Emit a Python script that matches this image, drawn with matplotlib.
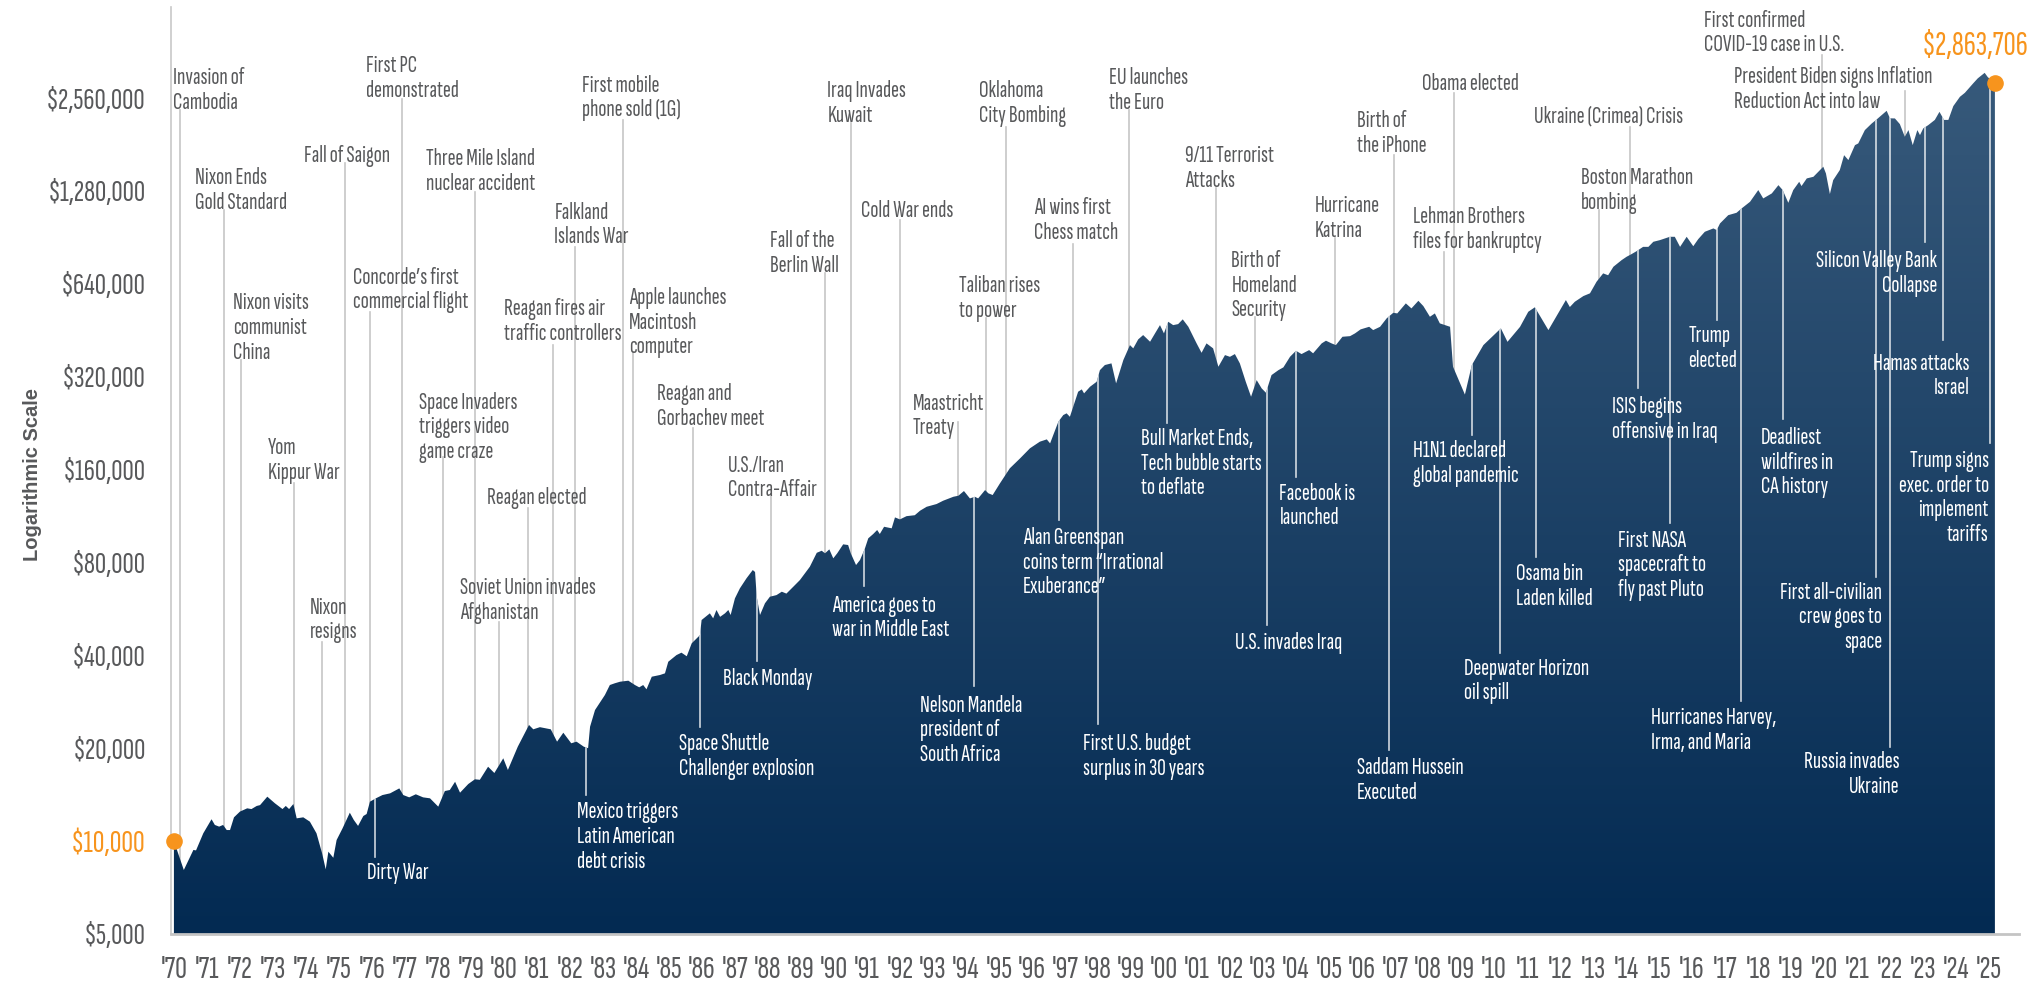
import numpy as np
import matplotlib.pyplot as plt
from matplotlib import font_manager as fm
from matplotlib.font_manager import FontProperties
from matplotlib.textpath import TextPath
from matplotlib.colors import LinearSegmentedColormap
from matplotlib.transforms import blended_transform_factory

# growth of $10,000 (log scale)
years = [1970.00, 1970.30, 1970.59, 1970.67, 1970.89, 1971.14, 1971.24, 1971.37, 1971.49, 1971.60,
         1971.70, 1971.82, 1972.00, 1972.22, 1972.35, 1972.51, 1972.61, 1972.83, 1973.06, 1973.29,
         1973.39, 1973.49, 1973.62, 1973.72, 1973.92, 1974.12, 1974.32, 1974.49, 1974.60, 1974.68,
         1974.83, 1974.93, 1975.11, 1975.33, 1975.45, 1975.58, 1975.74, 1975.84, 1975.94, 1976.12,
         1976.32, 1976.55, 1976.83, 1976.95, 1977.13, 1977.33, 1977.55, 1977.76, 1978.01, 1978.21,
         1978.36, 1978.52, 1978.67, 1978.92, 1979.12, 1979.27, 1979.52, 1979.71, 1979.98, 1980.12,
         1980.42, 1980.76, 1980.89, 1981.09, 1981.42, 1981.61, 1981.80, 1982.04, 1982.20, 1982.42,
         1982.55, 1982.61, 1982.76, 1983.06, 1983.21, 1983.36, 1983.52, 1983.77, 1983.97, 1984.10,
         1984.22, 1984.32, 1984.48, 1984.73, 1984.88, 1984.98, 1985.23, 1985.38, 1985.54, 1985.69,
         1985.94, 1985.99, 1986.24, 1986.34, 1986.44, 1986.55, 1986.70, 1986.80, 1986.87, 1987.00,
         1987.15, 1987.35, 1987.54, 1987.61, 1987.66, 1987.76, 1987.91, 1988.06, 1988.26, 1988.42,
         1988.56, 1988.77, 1988.97, 1989.27, 1989.48, 1989.63, 1989.73, 1989.86, 1989.98, 1990.10,
         1990.28, 1990.43, 1990.51, 1990.67, 1990.79, 1990.94, 1991.04, 1991.19, 1991.31, 1991.39,
         1991.52, 1991.75, 1991.85, 1992.00, 1992.20, 1992.45, 1992.61, 1992.81, 1993.11, 1993.31,
         1993.62, 1993.77, 1993.94, 1994.12, 1994.27, 1994.37, 1994.58, 1994.68, 1994.81, 1995.03,
         1995.33, 1995.64, 1995.94, 1996.24, 1996.45, 1996.55, 1996.80, 1996.95, 1997.05, 1997.15,
         1997.40, 1997.51, 1997.58, 1997.76, 1997.96, 1998.06, 1998.21, 1998.41, 1998.55, 1998.77,
         1998.97, 1999.07, 1999.22, 1999.37, 1999.58, 1999.73, 1999.88, 2000.00, 2000.13, 2000.28,
         2000.43, 2000.57, 2000.74, 2000.89, 2000.99, 2001.14, 2001.29, 2001.49, 2001.65, 2001.85,
         2002.00, 2002.15, 2002.30, 2002.48, 2002.64, 2002.81, 2002.96, 2003.09, 2003.26, 2003.47,
         2003.62, 2003.82, 2004.00, 2004.17, 2004.40, 2004.52, 2004.78, 2004.91, 2005.08, 2005.21,
         2005.41, 2005.64, 2005.79, 2005.96, 2006.22, 2006.34, 2006.55, 2006.75, 2006.95, 2007.07,
         2007.33, 2007.50, 2007.71, 2007.86, 2008.06, 2008.21, 2008.36, 2008.67, 2008.76, 2009.12,
         2009.33, 2009.68, 2010.21, 2010.41, 2010.79, 2011.04, 2011.24, 2011.65, 2012.18, 2012.30,
         2012.45, 2012.71, 2012.91, 2013.11, 2013.31, 2013.46, 2013.62, 2013.87, 2014.02, 2014.17,
         2014.32, 2014.52, 2014.68, 2014.83, 2015.03, 2015.33, 2015.48, 2015.64, 2015.84, 2016.04,
         2016.19, 2016.39, 2016.65, 2016.75, 2016.85, 2017.10, 2017.35, 2017.51, 2017.76, 2018.01,
         2018.16, 2018.42, 2018.62, 2018.75, 2018.92, 2019.07, 2019.25, 2019.32, 2019.48, 2019.68,
         2019.98, 2020.06, 2020.18, 2020.28, 2020.48, 2020.61, 2020.74, 2020.94, 2021.04, 2021.24,
         2021.45, 2021.60, 2021.75, 2021.90, 2022.00, 2022.15, 2022.30, 2022.45, 2022.56, 2022.69,
         2022.83, 2022.91, 2023.01, 2023.16, 2023.36, 2023.50, 2023.64, 2023.77, 2023.92, 2024.12,
         2024.27, 2024.52, 2024.66, 2024.87, 2024.97, 2025.05, 2025.18]
values = [10000, 8060, 9360, 9330, 10600, 11770, 11280, 11140, 11280, 10860,
          10860, 11940, 12460, 12770, 12700, 13000, 13080, 13930, 13260, 12700,
          13000, 12700, 13190, 11850, 11940, 11560, 10600, 9130, 8100, 9240,
          8830, 10080, 11000, 12360, 11710, 11200, 12060, 12240, 13420, 13760,
          14100, 14280, 14820, 14100, 13860, 14180, 13860, 13760, 12930, 14530,
          14640, 15570, 14350, 15310, 15860, 15800, 17420, 16620, 18550, 17000,
          20230, 23790, 23030, 23400, 23030, 21000, 22450, 20750, 21000, 20230,
          20000, 23480, 26590, 29750, 32050, 32470, 32850, 33100, 32050, 31500,
          32050, 31040, 34100, 34540, 34970, 38130, 40080, 40800, 39720, 43740,
          46500, 52060, 54720, 52710, 56100, 53300, 54720, 56100, 54040, 61180,
          65930, 71050, 75590, 74500, 62000, 54040, 58970, 61940, 62700, 64300,
          63400, 66760, 70160, 77480, 85970, 87300, 85640, 88200, 82480, 85640,
          91570, 91100, 85640, 78460, 81460, 88870, 95760, 98900, 101900, 98900,
          104400, 103200, 111960, 110300, 113000, 113800, 117700, 121200, 123700, 126800,
          130600, 131600, 136300, 129000, 130600, 129000, 137300, 134000, 132300, 144300,
          161500, 173900, 187500, 197000, 200400, 194500, 228600, 240300, 243400, 237200,
          286000, 291000, 282500, 296800, 308000, 336000, 349000, 353400, 304400, 362300,
          405000, 395300, 422600, 436500, 415300, 442000, 470100, 442000, 482000, 470100,
          473700, 490800, 464300, 431000, 410200, 382400, 410200, 395300, 344600, 375900,
          371100, 378800, 353400, 308000, 275500, 311900, 293300, 283900, 323800, 336000,
          343000, 371100, 388200, 378800, 390200, 380900, 410200, 418500, 410200, 405000,
          431000, 433000, 442000, 455400, 464300, 453000, 464300, 494600, 515500, 513000,
          552900, 532600, 563700, 542000, 500400, 513000, 476300, 464300, 344600, 280000,
          349000, 405000, 458900, 415000, 464000, 519400, 537000, 453000, 566800, 538000,
          559600, 584000, 596000, 650000, 691700, 682000, 726700, 763700, 783000, 798600,
          816000, 843000, 843000, 875600, 886500, 908800, 908800, 843000, 908800, 847000,
          893000, 943500, 967400, 955400, 1004000, 1068000, 1087000, 1124000, 1180000, 1288000,
          1210000, 1256000, 1336000, 1288000, 1171000, 1288000, 1370000, 1327000, 1405000, 1422000,
          1533000, 1458000, 1250000, 1387000, 1495000, 1671000, 1611000, 1801000, 1824000, 2015000,
          2118000, 2183000, 2254000, 2327000, 2200000, 2198000, 2107000, 1917000, 2015000, 1801000,
          2015000, 1941000, 2041000, 2091000, 2174000, 2309000, 2174000, 2174000, 2410000, 2583000,
          2661000, 2854000, 2964000, 3089000, 2986000, 2950000, 2863706]

ytick_values = [5000, 10000, 20000, 40000, 80000, 160000, 320000, 640000, 1280000, 2560000]
ytick_labels = ['$5,000', '$10,000', '$20,000', '$40,000', '$80,000', '$160,000',
                '$320,000', '$640,000', '$1,280,000', '$2,560,000']
xtick_years = list(range(1970, 2026))
xtick_labels = ["'%02d" % (y % 100) for y in xtick_years]

# events written above the curve (grey)
above_labels = ['Invasion of\nCambodia', 'Nixon Ends\nGold Standard', 'Nixon visits\ncommunist\nChina',
                'Yom\nKippur War', 'Nixon\nresigns', 'Fall of Saigon', 'First PC\ndemonstrated',
                'Concorde’s first\ncommercial flight', 'Three Mile Island\nnuclear accident',
                'Space Invaders\ntriggers video\ngame craze', 'Soviet Union invades\nAfghanistan',
                'Reagan elected', 'Reagan fires air\ntraffic controllers', 'Falkland\nIslands War',
                'First mobile\nphone sold (1G)', 'Apple launches\nMacintosh\ncomputer',
                'Reagan and\nGorbachev meet', 'U.S./Iran\nContra-Affair', 'Fall of the\nBerlin Wall',
                'Iraq Invades\nKuwait', 'Cold War ends', 'Maastricht\nTreaty', 'Taliban rises\nto power',
                'Oklahoma\nCity Bombing', 'AI wins first\nChess match', 'EU launches\nthe Euro',
                '9/11 Terrorist\nAttacks', 'Birth of\nHomeland\nSecurity', 'Hurricane\nKatrina',
                'Birth of\nthe iPhone', 'Obama elected', 'Lehman Brothers\nfiles for bankruptcy',
                'Ukraine (Crimea) Crisis', 'Boston Marathon\nbombing',
                'First confirmed\nCOVID-19 case in U.S.',
                'President Biden signs Inflation\nReduction Act into law']
above_years = [1970.17, 1971.51, 1972.03, 1973.65, 1974.49, 1975.17, 1976.91, 1975.95, 1979.11,
               1978.15, 1979.85, 1980.74, 1981.50, 1982.15, 1983.60, 1983.91, 1985.73, 1988.08,
               1989.74, 1990.52, 1991.99, 1993.76, 1994.60, 1995.21, 1997.24, 1998.94, 2001.59,
               2002.76, 2005.19, 2006.96, 2008.79, 2008.50, 2014.11, 2013.17, 2019.93, 2022.47]
# layout: text left (year units), text top, line top (axes fraction)
above_layout = [(1969.97, 0.935, 0.889), (1970.64, 0.827, 0.781), (1971.80, 0.692, 0.619),
                (1972.85, 0.536, 0.487), (1974.12, 0.364, 0.315), (1973.93, 0.851, 0.832),
                (1975.82, 0.948, 0.901), (1975.42, 0.720, 0.671), (1977.64, 0.848, 0.800),
                (1977.44, 0.585, 0.515), (1978.67, 0.385, 0.337), (1979.49, 0.482, 0.460),
                (1979.99, 0.686, 0.635), (1981.53, 0.790, 0.741), (1982.38, 0.927, 0.878),
                (1983.78, 0.698, 0.628), (1984.64, 0.594, 0.546), (1986.80, 0.517, 0.474),
                (1988.06, 0.759, 0.713), (1989.80, 0.921, 0.875), (1990.81, 0.792, 0.770),
                (1992.39, 0.584, 0.552), (1993.79, 0.711, 0.665), (1994.39, 0.921, 0.871),
                (1996.06, 0.795, 0.744), (1998.32, 0.935, 0.889), (2000.65, 0.851, 0.805),
                (2002.04, 0.738, 0.666), (2004.58, 0.797, 0.751), (2005.85, 0.889, 0.840),
                (2007.81, 0.929, 0.907), (2007.54, 0.785, 0.736), (2011.22, 0.894, 0.871),
                (2012.64, 0.827, 0.781), (2016.36, 0.997, 0.948), (2017.27, 0.936, 0.909)]

# events written inside the area (white)
below_labels = ['Dirty War', 'Mexico triggers\nLatin American\ndebt crisis',
                'Space Shuttle\nChallenger explosion', 'Black Monday',
                'America goes to\nwar in Middle East', 'Nelson Mandela\npresident of\nSouth Africa',
                'Alan Greenspan\ncoins term “Irrational\nExuberance”',
                'First U.S. budget\nsurplus in 30 years',
                'Bull Market Ends,\nTech bubble starts\nto deflate', 'U.S. invades Iraq',
                'Facebook is\nlaunched', 'Saddam Hussein\nExecuted', 'H1N1 declared\nglobal pandemic',
                'Deepwater Horizon\noil spill', 'Osama bin\nLaden killed', 'ISIS begins\noffensive in Iraq',
                'First NASA\nspacecraft to\nfly past Pluto', 'Trump\nelected',
                'Hurricanes Harvey,\nIrma, and Maria', 'Deadliest\nwildfires in\nCA history',
                'First all-civilian\ncrew goes to\nspace', 'Russia invades\nUkraine',
                'Silicon Valley Bank\nCollapse', 'Hamas attacks\nIsrael',
                'Trump signs\nexec. order to\nimplement\ntariffs']
below_years = [1976.09, 1982.48, 1985.94, 1987.66, 1990.92, 1994.24, 1996.83, 1998.01, 2000.08,
               2003.11, 2004.00, 2006.83, 2009.35, 2010.18, 2011.26, 2014.35, 2015.33, 2016.76,
               2017.50, 2018.75, 2021.58, 2022.00, 2023.05, 2023.62, 2025.03]
# layout: text anchor x (year units), text top, line bottom (axes fraction), alignment
below_layout = [(1975.84, 0.078, 0.083, 'left'), (1982.21, 0.143, 0.150, 'left'),
                (1985.30, 0.217, 0.223, 'left'), (1986.63, 0.287, 0.294, 'left'),
                (1989.93, 0.366, 0.375, 'left'), (1992.60, 0.258, 0.267, 'left'),
                (1995.72, 0.439, 0.447, 'left'), (1997.54, 0.217, 0.226, 'left'),
                (1999.30, 0.546, 0.551, 'left'), (2002.15, 0.326, 0.333, 'left'),
                (2003.50, 0.487, 0.493, 'left'), (2005.85, 0.191, 0.199, 'left'),
                (2007.54, 0.533, 0.538, 'left'), (2009.09, 0.298, 0.303, 'left'),
                (2010.67, 0.400, 0.407, 'left'), (2013.59, 0.580, 0.589, 'left'),
                (2013.76, 0.436, 0.443, 'left'), (2015.89, 0.657, 0.662, 'left'),
                (2014.77, 0.245, 0.251, 'left'), (2018.09, 0.547, 0.555, 'left'),
                (2021.77, 0.380, 0.385, 'right'), (2022.30, 0.197, 0.202, 'right'),
                (2023.42, 0.738, 0.747, 'right'), (2024.40, 0.627, 0.641, 'right'),
                (2024.99, 0.522, 0.530, 'right')]

grey = '#58595b'
orange = '#f7941d'


# --- pick the narrowest-looking installed face (the original uses a condensed font)
def ink(s, fp):
    e = TextPath((0, 0), s, size=10, prop=fp).get_extents()
    return e.width * 100 / 72, e.ymin * 100 / 72, e.ymax * 100 / 72


cands = []
for f in fm.fontManager.ttflist:
    regular = f.style == 'normal' and str(f.weight) in ('400', 'normal', 'regular', 'book')
    narrow = 'Condensed' in f.name or 'Narrow' in f.name or 'condensed' in str(f.stretch)
    if regular and (narrow or f.name == 'Liberation Sans') and 'Mono' not in f.name \
            and 'Serif' not in f.name and 'DejaVu' not in f.name:
        cands.append(f.fname)
best = None
for path in cands:
    fp = FontProperties(fname=path)
    try:
        w = ink('Soviet Union invades', fp)[0]
        cap = ink('H', fp)[2]
    except Exception:
        continue
    score = abs(w / cap - 8.5)
    if best is None or score < best[0]:
        best = (score, path)
font_path = best[1] if best else fm.findfont('Liberation Sans')


def sized(sample, width_px):
    fp = FontProperties(fname=font_path)
    size = 10 * width_px / ink(sample, fp)[0]
    return FontProperties(fname=font_path, size=size)


ann_fp = sized('Soviet Union invades', 134)
w_lp, d_lp, a_lp = ink('lp', ann_fp)
scale = ann_fp.get_size() / 10
line_sp = (23.3 + d_lp * scale) / (a_lp * scale)
ytick_fp = sized('$2,560,000', 96)
xtick_fp = FontProperties(fname=font_path, size=ytick_fp.get_size() * 1.06)
ten_fp = sized('$10,000', 71)
end_fp = sized('$2,863,706', 103)

fig = plt.figure(figsize=(20.4, 9.82), dpi=100)
ax = fig.add_axes([0.0838, 0.0489, 0.9059, 0.944])
ax.set_yscale('log')
ax.set_xlim(1969.91, 2025.91)
ax.set_ylim(5000, 5.05e6)

# area filled with a vertical gradient
fill = ax.fill_between(years, values, 5000, facecolor='none', edgecolor='none', zorder=1)
area_path = fill.get_paths()[0]
cmap = LinearSegmentedColormap.from_list('navy', ['#032a52', '#3b5d7e'])
grad = np.linspace(0, 1, 256).reshape(-1, 1)
im = ax.imshow(grad, extent=[0, 1, 0, 1], transform=ax.transAxes, cmap=cmap,
               origin='lower', aspect='auto', zorder=2)
im.set_clip_path(area_path, ax.transData)
ax.set_xlim(1969.91, 2025.91)
ax.set_ylim(5000, 5.05e6)

blend = blended_transform_factory(ax.transData, ax.transAxes)

for lab, yr, (tx, ty, ly) in zip(above_labels, above_years, above_layout):
    ax.plot([yr, yr], [0, ly], transform=blend, color='#c6c6c6', lw=1.2, zorder=1)
    ax.text(tx, ty, lab, transform=blend, ha='left', va='top', color=grey,
            fontproperties=ann_fp, linespacing=line_sp, zorder=4)

for lab, yr, (tx, ty, ly, ha) in zip(below_labels, below_years, below_layout):
    ln, = ax.plot([yr, yr], [ly, 1], transform=blend, color='white', alpha=0.8, lw=1.2, zorder=3)
    ln.set_clip_path(area_path, ax.transData)
    ax.text(tx, ty, lab, transform=blend, ha=ha, va='top', multialignment=ha, color='white',
            fontproperties=ann_fp, linespacing=line_sp, zorder=4)

# start / end markers
ax.scatter([years[0], years[-1]], [values[0], values[-1]], s=120, color=orange, zorder=6, clip_on=False)
ax.text(2022.95, 0.958, f'${values[-1]:,.0f}', transform=blend, ha='left', va='center',
        color=orange, fontproperties=end_fp, zorder=6)

ax.set_yticks(ytick_values)
ax.set_yticklabels(ytick_labels, fontproperties=ytick_fp)
ax.yaxis.set_minor_locator(plt.NullLocator())
ax.set_xticks(xtick_years)
ax.set_xticklabels(xtick_labels, fontproperties=xtick_fp)
ax.tick_params(axis='y', length=0, pad=18, labelcolor=grey)
ax.tick_params(axis='x', length=0, pad=16, labelcolor=grey)
lab10 = ax.get_yticklabels()[1]
lab10.set_color(orange)
lab10.set_fontproperties(ten_fp)

for s in ['top', 'right']:
    ax.spines[s].set_visible(False)
ax.spines['left'].set_color('#c8c8c8')
ax.spines['left'].set_linewidth(1.2)
ax.spines['bottom'].set_color('#c4c4c4')
ax.spines['bottom'].set_linewidth(2)

fig.text(0.0157, 0.517, 'Logarithmic Scale', rotation=90, ha='center', va='center',
         fontweight='bold', fontsize=14.5, color=grey, family=['Liberation Sans', 'DejaVu Sans'])

fig.savefig('out.png', dpi=100)
